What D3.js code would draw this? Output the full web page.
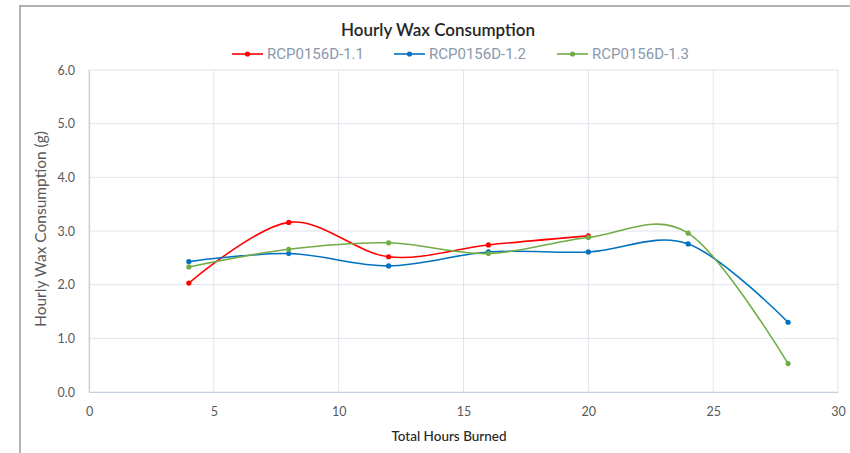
<!DOCTYPE html>
<html>
<head>
<meta charset="utf-8">
<script src="https://cdn.jsdelivr.net/npm/d3@7"></script>
<style>
  body { margin: 0; background: #fff; }
  svg { display: block; }
</style>
</head>
<body>
<svg id="chart" width="850" height="453"></svg>
<script>
// hours burned at each weighing
const hours = [4, 8, 12, 16, 20, 24, 28];

// hourly wax consumption (g) per candle
const candle11 = [2.03, 3.16, 2.52, 2.74, 2.91];
const candle12 = [2.43, 2.58, 2.35, 2.61, 2.61, 2.76, 1.30];
const candle13 = [2.33, 2.66, 2.78, 2.58, 2.88, 2.96, 0.53];

const seriesNames = ["RCP0156D-1.1", "RCP0156D-1.2", "RCP0156D-1.3"];
const seriesColors = ["#ff0000", "#0070c0", "#70ad47"];

const xTicks = [0, 5, 10, 15, 20, 25, 30];
const yTicks = [0, 1, 2, 3, 4, 5, 6];

let series = [candle11, candle12, candle13].map((vals, i) => ({
    name: seriesNames[i],
    color: seriesColors[i],
    points: vals.map((v, j) => ({x: hours[j], y: v}))
}));

let svg = d3.select("#chart");
let width = +svg.attr("width");
let height = +svg.attr("height");

//frame lines of the clipped screenshot
svg.append("line").attr("x1", 20).attr("x2", 20).attr("y1", 5).attr("y2", height)
    .attr("stroke", "#9a9a9a").attr("stroke-width", 1.5);
svg.append("line").attr("x1", 20).attr("x2", width).attr("y1", 6).attr("y2", 6)
    .attr("stroke", "#9a9a9a").attr("stroke-width", 1.5);

let x = d3.scaleLinear().domain([0, 30]).range([89, 838]);
let y = d3.scaleLinear().domain([0, 6]).range([392, 70]);

//grid
let grid = svg.append("g");
grid.selectAll(".gx").data(xTicks).enter().append("line")
    .attr("x1", d => x(d)).attr("x2", d => x(d))
    .attr("y1", y(0)).attr("y2", y(6))
    .attr("stroke", "#dfe3ea").attr("stroke-width", 1);
grid.selectAll(".gy").data(yTicks).enter().append("line")
    .attr("x1", x(0)).attr("x2", x(30))
    .attr("y1", d => y(d)).attr("y2", d => y(d))
    .attr("stroke", "#dfe3ea").attr("stroke-width", 1);

//axes
let xAxis = svg.append("g")
    .attr("transform", "translate(0," + y(0) + ")")
    .call(d3.axisBottom(x).tickValues(xTicks).tickSize(0).tickPadding(15));
let yAxis = svg.append("g")
    .attr("transform", "translate(" + x(0) + ",0)")
    .call(d3.axisLeft(y).tickValues(yTicks).tickSize(0).tickPadding(14).tickFormat(d3.format(".1f")));

[xAxis, yAxis].forEach(ax => {
    ax.select(".domain").attr("stroke", "#c5d0de").attr("stroke-width", 1.2);
    ax.selectAll("text")
        .attr("fill", "#595959")
        .style("font-family", "Lato, 'Open Sans', sans-serif")
        .style("font-size", "12.5px");
});

//series lines, smoothed like the spreadsheet did
let line = d3.line()
    .x(d => x(d.x))
    .y(d => y(d.y))
    .curve(d3.curveCardinal.tension(0));

let groups = svg.selectAll(".series").data(series).enter().append("g").attr("class", "series");
groups.append("path")
    .attr("d", d => line(d.points))
    .attr("fill", "none")
    .attr("stroke", d => d.color)
    .attr("stroke-width", 1.6);
groups.each(function(s) {
    d3.select(this).selectAll("circle").data(s.points).enter().append("circle")
        .attr("cx", d => x(d.x))
        .attr("cy", d => y(d.y))
        .attr("r", 2.6)
        .attr("fill", s.color);
});

//title
svg.append("text")
    .attr("x", 438).attr("y", 36)
    .attr("text-anchor", "middle")
    .attr("fill", "#262626")
    .style("font-family", "Lato, 'Open Sans', sans-serif")
    .style("font-size", "17px")
    .style("font-weight", "600")
    .text("Hourly Wax Consumption");

//legend
let legendX = [232, 394, 557];
let legend = svg.selectAll(".legend").data(series).enter().append("g")
    .attr("transform", (d, i) => "translate(" + legendX[i] + ",54)");
legend.append("line")
    .attr("x1", 0).attr("x2", 31).attr("y1", 0).attr("y2", 0)
    .attr("stroke", d => d.color).attr("stroke-width", 1.6);
legend.append("circle").attr("cx", 15.5).attr("cy", 0).attr("r", 2.6).attr("fill", d => d.color);
legend.append("text")
    .attr("x", 35).attr("y", 5)
    .attr("fill", "#8a98ad")
    .style("font-family", "Roboto, sans-serif")
    .style("font-size", "15px")
    .text(d => d.name);

//axis titles
svg.append("text")
    .attr("x", 449).attr("y", 441)
    .attr("text-anchor", "middle")
    .attr("fill", "#262626")
    .style("font-family", "Lato, 'Open Sans', sans-serif")
    .style("font-size", "13.5px")
    .style("font-weight", "500")
    .text("Total Hours Burned");

svg.append("text")
    .attr("transform", "translate(46,229) rotate(-90)")
    .attr("text-anchor", "middle")
    .attr("fill", "#595959")
    .style("font-family", "Lato, 'Open Sans', sans-serif")
    .style("font-size", "15.5px")
    .text("Hourly Wax Consumption (g)");
</script>
</body>
</html>
